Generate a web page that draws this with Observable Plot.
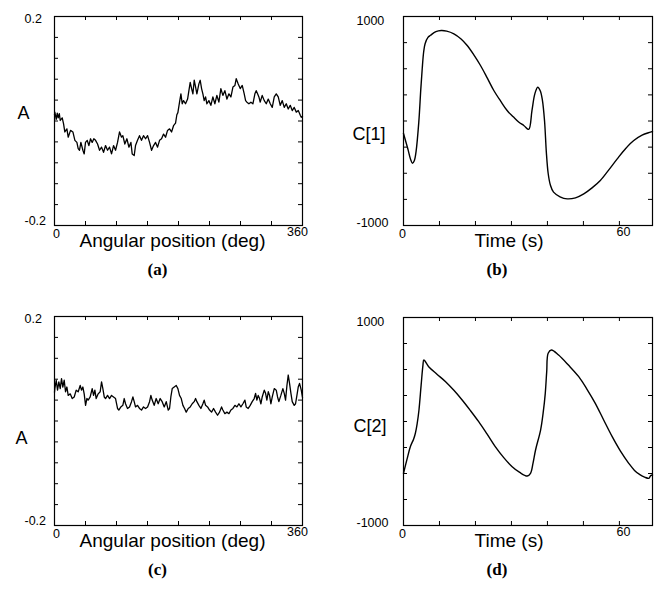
<!DOCTYPE html>
<html><head><meta charset="utf-8">
<script src="https://cdn.jsdelivr.net/npm/d3@7"></script>
<script src="https://cdn.jsdelivr.net/npm/@observablehq/plot@0.6"></script>
<style>
body{margin:0;background:#fff;}
#fig{position:relative;width:658px;height:590px;background:#fff;overflow:hidden;}
#fig svg{position:absolute;}
</style></head><body><div id="fig"></div>
<script>
// Panel (a): A vs angular position
const aDeg = [0,0.5,2.5,4.0,5.4,7.0,8.3,11.2,13.1,15.0,18.0,19.9,23.3,26.7,29.6,32.5,34.4,36.3,38.3,41.2,43.1,45.0,47.5,49.9,52.3,54.7,57.1,59.6,62.5,65.4,68.3,71.2,74.1,77.0,79.9,82.8,85.7,88.6,91.5,94.4,97.3,99.2,102.1,105.1,108.0,110.9,112.8,115.7,117.6,120.5,123.4,126.3,129.2,132.2,135.1,138.0,140.9,143.8,146.7,149.6,152.5,155.4,158.3,161.2,164.1,167.0,169.9,172.8,175.7,177.6,179.1,181.5,183.5,185.4,187.3,190.2,193.2,195.1,197.0,199.0,200.9,202.8,204.8,206.7,209.6,211.5,213.5,215.4,217.3,219.3,221.2,224.1,227.0,229.9,232.8,235.7,238.6,241.5,244.4,247.3,250.3,253.2,256.1,259.0,261.9,263.8,266.7,269.6,272.5,275.4,277.4,279.3,282.2,285.1,288.0,290.9,292.8,294.8,296.7,298.6,301.5,304.5,307.4,310.3,313.2,316.1,319.0,321.9,324.8,327.7,330.6,333.5,336.4,339.3,342.2,345.1,348.0,351.0,353.9,356.8,358.2,360];
const aVal = [0.012,0.017,0.003,0.015,0.006,0.014,0.001,0.006,-0.005,-0.021,-0.015,-0.031,-0.018,-0.021,-0.037,-0.041,-0.053,-0.056,-0.041,-0.056,-0.063,-0.041,-0.037,-0.047,-0.034,-0.041,-0.034,-0.037,-0.044,-0.056,-0.050,-0.060,-0.047,-0.056,-0.050,-0.063,-0.047,-0.056,-0.041,-0.021,-0.031,-0.028,-0.044,-0.034,-0.050,-0.041,-0.063,-0.066,-0.047,-0.037,-0.028,-0.037,-0.028,-0.034,-0.028,-0.041,-0.056,-0.047,-0.041,-0.050,-0.037,-0.034,-0.025,-0.031,-0.018,-0.015,-0.021,-0.009,-0.004,0.012,0.016,0.036,0.052,0.033,0.039,0.033,0.042,0.058,0.074,0.062,0.052,0.078,0.065,0.052,0.071,0.078,0.062,0.052,0.039,0.046,0.033,0.039,0.030,0.046,0.033,0.049,0.036,0.062,0.049,0.058,0.042,0.052,0.046,0.065,0.068,0.081,0.071,0.062,0.068,0.052,0.039,0.036,0.033,0.036,0.033,0.052,0.058,0.052,0.046,0.036,0.049,0.039,0.033,0.042,0.033,0.026,0.046,0.052,0.046,0.030,0.039,0.026,0.033,0.023,0.030,0.020,0.026,0.017,0.020,0.011,0.007,0.009];

// Panel (b): C[1] vs time
const bTime = [0,1.2,2.0,2.5,3.0,3.5,4.25,4.8,5.2,5.6,6.0,6.8,7.5,9.0,10.5,12.0,14.0,16.0,17.7,19.5,21.4,23.3,25.1,27.0,28.8,30.5,32.0,33.5,34.8,35.7,36.5,37.3,38.0,38.6,39.2,39.7,40.2,40.8,41.7,43.5,45.5,47.8,50.1,52.4,54.7,57.0,59.4,61.7,64.0,66.3,68.6,69.2];
const bVal = [-120,-266,-370,-404,-380,-290,-11,300,500,660,740,800,820,855,866,860,834,785,722,635,531,410,292,190,100,40,-10,-45,-80,100,260,323,290,200,0,-300,-500,-610,-681,-725,-745,-735,-697,-640,-569,-470,-362,-265,-187,-135,-107,-100];

// Panel (c): A vs angular position
const cDeg = [0,0.5,2.5,4.4,6.3,8.3,10.2,12.1,14.1,16.0,18.0,19.9,22.8,25.7,28.6,31.5,34.4,37.3,39.2,41.2,43.1,45.1,47.0,48.9,51.8,54.7,56.7,58.6,60.5,63.4,66.3,68.3,70.2,72.2,74.1,77.0,79.9,82.8,85.7,88.6,91.5,93.4,96.3,99.2,101.2,103.1,106.0,108.9,111.8,113.8,115.7,117.6,120.5,123.4,126.3,129.2,132.2,135.1,138.0,139.9,141.8,144.7,147.6,150.5,153.4,156.3,159.3,162.2,165.1,167.0,168.9,170.9,173.8,176.7,179.1,181.5,184.0,186.4,188.8,191.2,194.1,197.0,199.9,202.8,204.8,206.7,209.6,212.5,215.4,217.3,219.3,222.2,225.1,228.0,230.9,233.8,236.7,239.6,242.5,244.4,247.3,250.3,253.2,256.1,259.0,261.9,264.8,267.7,270.6,273.5,276.4,278.3,281.2,284.1,287.0,289.9,291.9,293.8,295.7,297.7,299.6,301.5,304.5,306.4,308.3,310.3,312.2,314.1,316.1,319.0,321.9,323.8,325.7,328.6,331.5,333.5,335.4,337.4,339.3,341.2,343.2,345.1,348.0,349.9,351.9,353.8,355.7,358.2,360];
const cVal = [0.055,0.062,0.078,0.059,0.075,0.062,0.081,0.065,0.078,0.056,0.065,0.049,0.052,0.043,0.046,0.059,0.056,0.068,0.059,0.065,0.052,0.030,0.043,0.040,0.046,0.062,0.049,0.059,0.043,0.052,0.056,0.075,0.062,0.046,0.043,0.049,0.043,0.049,0.046,0.043,0.024,0.021,0.027,0.030,0.043,0.033,0.024,0.027,0.037,0.046,0.037,0.027,0.030,0.024,0.021,0.027,0.024,0.027,0.037,0.049,0.040,0.030,0.043,0.033,0.043,0.037,0.027,0.037,0.021,0.024,0.046,0.062,0.065,0.068,0.062,0.049,0.043,0.030,0.024,0.017,0.024,0.027,0.033,0.037,0.043,0.037,0.030,0.024,0.033,0.040,0.030,0.027,0.021,0.017,0.024,0.017,0.011,0.017,0.027,0.021,0.014,0.017,0.014,0.021,0.024,0.030,0.027,0.033,0.027,0.033,0.040,0.027,0.024,0.030,0.037,0.043,0.053,0.040,0.049,0.043,0.033,0.046,0.059,0.053,0.040,0.056,0.049,0.033,0.046,0.062,0.059,0.046,0.037,0.049,0.062,0.053,0.040,0.068,0.088,0.072,0.053,0.037,0.030,0.033,0.049,0.065,0.072,0.059,0.045];

// Panel (d): C[2] vs time
const dTime = [0,1.0,1.9,2.8,3.3,3.8,4.3,4.9,5.4,5.65,7.0,9.3,11.7,14.0,16.3,18.6,20.9,23.2,25.5,27.8,30.2,32.3,34.4,35.3,36.0,36.7,38.1,38.8,39.4,39.8,40.2,41.1,43.1,45.9,48.7,51.0,53.3,55.7,58.0,60.3,62.6,64.2,65.8,67.0,68.2,68.7,69.2];
const dVal = [-498,-360,-242,-170,-113,-20,111,350,540,591,527,455,383,300,207,105,-2,-120,-242,-345,-435,-490,-524,-498,-400,-274,-82,80,271,480,656,688,639,540,431,310,175,10,-146,-285,-402,-470,-514,-535,-546,-520,-514];

// Axis ticks and labels
const angleTicks = [45,90,135,180,225,270,315];
const ampTicks = [-0.16,-0.12,-0.08,-0.04,0,0.04,0.08,0.12,0.16];
const timeTicks = [10,20,30,40,50,60];
const coefTicks = [-750,-500,-250,0,250,500,750];
const angleEnds = [0,360];
const ampEnds = [-0.2,0.2];
const timeEnds = [0,60];
const coefEnds = [-1000,1000];
const xTitles = ["Angular position (deg)","Time (s)"];
const yTitles = ["A","C[1]","C[2]"];
const captions = ["(a)","(b)","(c)","(d)"];

const fig = document.getElementById("fig");
const sans = "'Liberation Sans', Arial, Helvetica, sans-serif";
const serif = "'Liberation Serif', 'Times New Roman', serif";

function panel(o) {
  const data = o.xs.map((x, i) => ({x, y: o.ys[i]}));
  const fw = o.width - o.ml - o.mr, fh = o.height - o.mt - o.mb;
  const tl = 4;
  const fmt = d => String(d);
  const svg = Plot.plot({
    width: o.width, height: o.height,
    marginLeft: o.ml, marginRight: o.mr, marginTop: o.mt, marginBottom: o.mb,
    style: {fontFamily: sans, background: "white", overflow: "visible", color: "black"},
    x: {domain: o.xDomain},
    y: {domain: o.yDomain},
    marks: [
      Plot.tickX(o.xt, {x: d => d, insetBottom: fh - tl, stroke: "black"}),
      Plot.tickX(o.xt, {x: d => d, insetTop: fh - tl, stroke: "black"}),
      Plot.tickY(o.yt, {y: d => d, insetRight: fw - tl, stroke: "black"}),
      Plot.tickY(o.yt, {y: d => d, insetLeft: fw - tl, stroke: "black"}),
      Plot.line(data, {x: "x", y: "y", stroke: "black", strokeWidth: o.sw, curve: o.curve}),
      Plot.frame({stroke: "black", strokeWidth: 1.2}),
      Plot.axisX([o.xEnds[0]], {anchor: "bottom", tickSize: 0, tickPadding: 4, fontSize: 12.5, label: null, tickFormat: fmt, dx: o.x0dx}),
      Plot.axisX([o.xEnds[1]], {anchor: "bottom", tickSize: 0, tickPadding: 4, fontSize: 12.5, label: null, tickFormat: fmt, dx: o.x1dx, dy: -2}),
      Plot.axisY([o.yEnds[1]], {anchor: "left", tickSize: 0, tickPadding: o.ypad, textAnchor: "start", fontSize: 12.5, label: null, tickFormat: fmt, dy: o.ytopdy}),
      Plot.axisY([o.yEnds[0]], {anchor: "left", tickSize: 0, tickPadding: o.ypad, textAnchor: "start", fontSize: 12.5, label: null, tickFormat: fmt, dy: o.ybotdy}),
      Plot.text([o.ytitle], {text: d => d, frameAnchor: "left", textAnchor: "start", dx: o.ytdx, dy: o.ytdy, fontSize: 18}),
      Plot.text([o.xtitle], {text: d => d, frameAnchor: "bottom", dx: o.xtdx, dy: 21, fontSize: 19}),
      Plot.text([o.caption], {text: d => d, frameAnchor: "bottom", dx: o.capdx, dy: 49, fontSize: 17, fontWeight: "bold", fontFamily: serif})
    ]
  });
  svg.style.left = o.left + "px";
  svg.style.top = o.top + "px";
  fig.appendChild(svg);
}

const angCommon = {xDomain: [0,360], yDomain: [-0.2,0.2], xt: angleTicks, yt: ampTicks, xEnds: angleEnds, yEnds: ampEnds,
  width: 329, ml: 54, mr: 27, ypad: 30, x0dx: 2, x1dx: -5, ytopdy: 2, ybotdy: -5, xtitle: xTitles[0], xtdx: -6, capdx: -21, sw: 1.3, curve: "linear"};
const timeCommon = {xDomain: [0,69.2], yDomain: [-1000,1000], xt: timeTicks, yt: coefTicks, xEnds: timeEnds, yEnds: coefEnds,
  width: 328, ml: 73, mr: 6, ypad: 47, x0dx: -1, x1dx: 4, ytopdy: 4, ybotdy: -3, xtitle: xTitles[1], xtdx: -19, capdx: -31, sw: 1.4, curve: "catmull-rom"};

panel({...angCommon, xs: aDeg, ys: aVal, left: 0, top: 0, height: 300, mt: 16, mb: 75, ytitle: yTitles[0], ytdx: -37, ytdy: -8, caption: captions[0]});
panel({...timeCommon, xs: bTime, ys: bVal, left: 330, top: 0, height: 300, mt: 16, mb: 75, ytitle: yTitles[1], ytdx: -51, ytdy: 13, caption: captions[1]});
panel({...angCommon, xs: cDeg, ys: cVal, left: 0, top: 300, height: 290, mt: 16, mb: 65, ytitle: yTitles[0], ytdx: -39, ytdy: 17, caption: captions[2]});
panel({...timeCommon, xs: dTime, ys: dVal, left: 330, top: 300, height: 290, mt: 17, mb: 65, ytitle: yTitles[2], ytdx: -50, ytdy: 5, caption: captions[3]});
</script></body></html>
